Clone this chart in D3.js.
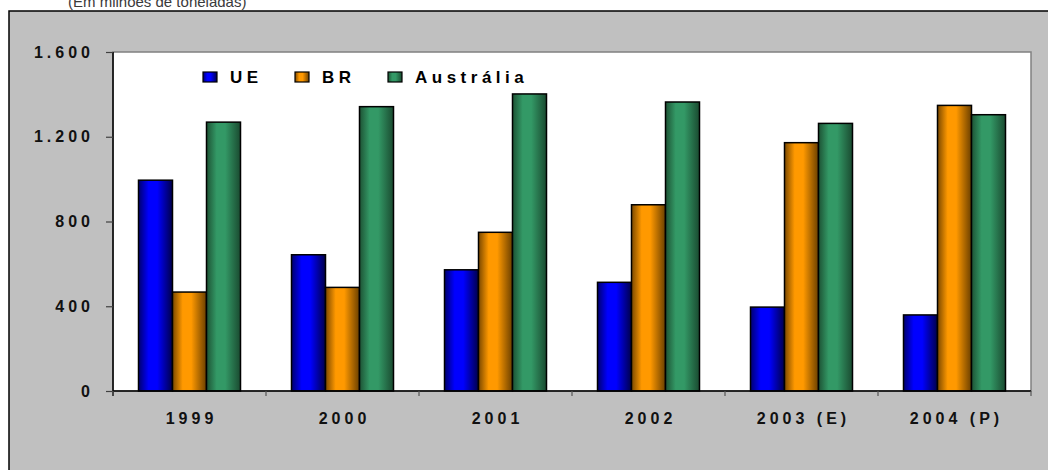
<!DOCTYPE html>
<html>
<head>
<meta charset="utf-8">
<script src="https://cdn.jsdelivr.net/npm/d3@7"></script>
<style>
  html, body { margin: 0; padding: 0; background: #ffffff; }
  svg { display: block; }
  text { font-family: "Liberation Sans", Arial, sans-serif; }
</style>
</head>
<body>
<svg id="chart" width="1048" height="470"></svg>
<script>
// Exportações (milhões de toneladas)
const categories = ["1999", "2000", "2001", "2002", "2003 (E)", "2004 (P)"];
const seriesNames = ["UE", "BR", "Austrália"];
const ueValues  = [995, 643, 572, 513, 396, 359];
const brValues  = [467, 489, 749, 879, 1172, 1348];
const ausValues = [1269, 1342, 1402, 1364, 1263, 1304];
const yTicks = [0, 400, 800, 1200, 1600];
const yTickLabels = ["0", "400", "800", "1.200", "1.600"];

const seriesValues = [ueValues, brValues, ausValues];
const seriesColors = [
  { edgeL: "#00006e", mid: "#0000ff", edgeR: "#00004a" },
  { edgeL: "#7a4800", mid: "#ff9900", edgeR: "#6a3f00" },
  { edgeL: "#1d5234", mid: "#339966", edgeR: "#1a4a30" }
];

const svg = d3.select("#chart");

// gradients: dark edges, bright middle
const defs = svg.append("defs");
seriesColors.forEach((c, i) => {
  const g = defs.append("linearGradient")
    .attr("id", "grad" + i)
    .attr("x1", 0).attr("x2", 1).attr("y1", 0).attr("y2", 0);
  g.append("stop").attr("offset", "0%").attr("stop-color", c.edgeL);
  g.append("stop").attr("offset", "30%").attr("stop-color", c.mid);
  g.append("stop").attr("offset", "55%").attr("stop-color", c.mid);
  g.append("stop").attr("offset", "100%").attr("stop-color", c.edgeR);
});

// subtitle
svg.append("text")
  .attr("x", 68).attr("y", 7)
  .attr("font-size", 15)
  .attr("fill", "#3a3a3a")
  .text("(Em milhões de toneladas)");

// chart area background
svg.append("rect")
  .attr("x", 9).attr("y", 11)
  .attr("width", 1060).attr("height", 480)
  .attr("fill", "#c0c0c0")
  .attr("stroke", "#000").attr("stroke-width", 1.5);

const plot = { left: 113, right: 1031, top: 52, bottom: 391 };

const x = d3.scaleBand().domain(categories).range([plot.left, plot.right]).padding(0);
const xs = d3.scaleBand().domain(d3.range(seriesNames.length))
  .range([0, x.bandwidth()]).paddingInner(0).paddingOuter(0.75);
const y = d3.scaleLinear().domain([0, 1600]).range([plot.bottom, plot.top]);

// plot area
svg.append("rect")
  .attr("x", plot.left).attr("y", plot.top)
  .attr("width", plot.right - plot.left).attr("height", plot.bottom - plot.top)
  .attr("fill", "#ffffff")
  .attr("stroke", "#808080").attr("stroke-width", 1.5);

// bars
const groups = svg.append("g").selectAll("g")
  .data(categories)
  .join("g")
  .attr("transform", d => `translate(${x(d)},0)`);

groups.selectAll("rect")
  .data((d, ci) => seriesValues.map((vals, si) => ({ si, v: vals[ci] })))
  .join("rect")
  .attr("x", d => xs(d.si))
  .attr("width", xs.bandwidth())
  .attr("y", d => y(d.v))
  .attr("height", d => y(0) - y(d.v))
  .attr("fill", d => `url(#grad${d.si})`)
  .attr("stroke", "#000")
  .attr("stroke-width", 1.5);

// y axis
const yAxis = d3.axisLeft(y)
  .tickValues(yTicks)
  .tickSize(7)
  .tickPadding(16)
  .tickFormat((d, i) => yTickLabels[i]);
const gy = svg.append("g")
  .attr("transform", `translate(${plot.left},0)`)
  .call(yAxis);
gy.select(".domain").attr("stroke", "#000").attr("stroke-width", 1.5)
  .attr("d", `M0,${plot.top}V${plot.bottom + 5}`);
gy.selectAll(".tick line").attr("stroke", "#404040").attr("stroke-width", 1.2);
gy.selectAll(".tick text")
  .attr("font-size", 16).attr("font-weight", "bold")
  .attr("letter-spacing", 4)
  .attr("fill", "#111")
  .attr("dx", 4)
  .attr("font-family", "Liberation Sans, Arial, sans-serif");

// x axis
const xAxis = d3.axisBottom(x).tickSize(0).tickPadding(22);
const gx = svg.append("g")
  .attr("transform", `translate(0,${plot.bottom})`)
  .call(xAxis);
gx.select(".domain").attr("stroke", "#000").attr("stroke-width", 1.5)
  .attr("d", `M${plot.left},0H${plot.right}`);
gx.selectAll(".tick text")
  .attr("font-size", 16).attr("font-weight", "bold")
  .attr("letter-spacing", 4)
  .attr("fill", "#111")
  .attr("dx", 2)
  .attr("font-family", "Liberation Sans, Arial, sans-serif");

// category boundary ticks
const bounds = categories.map(c => x(c)).concat([plot.right]);
svg.append("g").selectAll("line")
  .data(bounds)
  .join("line")
  .attr("x1", d => d).attr("x2", d => d)
  .attr("y1", plot.bottom).attr("y2", plot.bottom + 5)
  .attr("stroke", "#555").attr("stroke-width", 1.2);

// legend
const legendX = [203, 295, 388];
const legend = svg.append("g").selectAll("g")
  .data(seriesNames)
  .join("g")
  .attr("transform", (d, i) => `translate(${legendX[i]},72)`);
legend.append("rect")
  .attr("width", 14).attr("height", 10)
  .attr("fill", (d, i) => `url(#grad${i})`)
  .attr("stroke", "#000").attr("stroke-width", 1.2);
legend.append("text")
  .attr("x", 27).attr("y", 10.5)
  .attr("font-size", 17).attr("font-weight", "bold")
  .attr("letter-spacing", 4.5)
  .attr("fill", "#000")
  .text(d => d);
</script>
</body>
</html>
